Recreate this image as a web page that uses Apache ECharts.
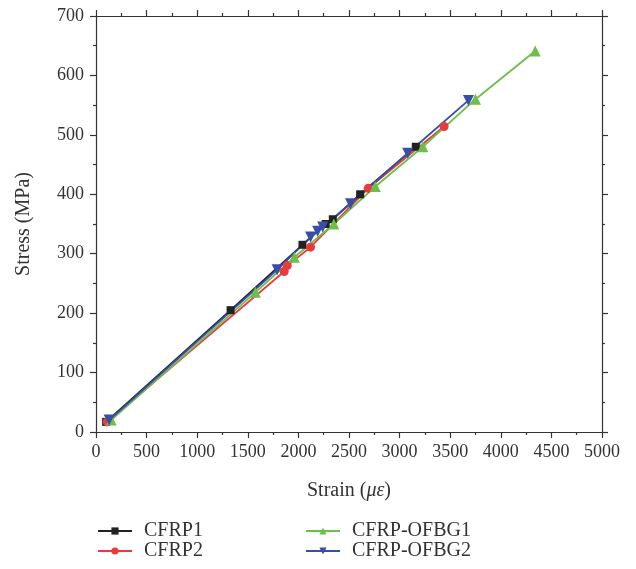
<!DOCTYPE html>
<html>
<head>
<meta charset="utf-8">
<script src="https://cdn.jsdelivr.net/npm/echarts@6/dist/echarts.min.js"></script>
<style>html,body{margin:0;padding:0;background:#fff;}#c{width:636px;height:569px;}</style>
</head>
<body>
<div id="c"></div>
<script>
var seriesNames = ['CFRP1', 'CFRP2', 'CFRP-OFBG1', 'CFRP-OFBG2'];
var cfrp1 = [[100,17],[1330,205],[2040,315],[2270,350],[2340,358],[2610,400],[3160,480]];
var cfrp2 = [[110,17],[1860,270],[1890,280],[2120,311],[2690,410],[3440,514]];
var ofbg1 = [[150,20],[1575,235],[1960,294],[2350,350],[2760,413],[3230,480],[3750,560],[4340,641]];
var ofbg2 = [[130,20],[1790,273],[2120,328],[2190,338],[2240,345],[2515,384],[3080,469],[3680,558]];
var xTicks = [0,500,1000,1500,2000,2500,3000,3500,4000,4500,5000];
var yTicks = [0,100,200,300,400,500,600,700];

var font = '"Liberation Serif", "DejaVu Serif", serif';
var axisColor = '#333';
function mkSeries(name, data, color, symbol, rotate, size) {
  return {
    name: name, type: 'line', data: data, xAxisIndex: 0, yAxisIndex: 0,
    symbol: symbol, symbolSize: size, symbolRotate: rotate,
    lineStyle: {color: color, width: 1.8},
    itemStyle: {color: color},
    animation: false
  };
}
var chart = echarts.init(document.getElementById('c'));
var baseAxis = {
  axisLine: {show: true, onZero: false, lineStyle: {color: axisColor, width: 1.2}},
  axisTick: {show: true, inside: false, length: 6, lineStyle: {color: axisColor, width: 1.2}},
  minorTick: {show: true, splitNumber: 2, length: 3, lineStyle: {color: axisColor, width: 1.2}},
  splitLine: {show: false}
};
function plain(v) { return String(v); }
chart.setOption({
  backgroundColor: '#fff',
  animation: false,
  grid: {left: 96, right: 34, top: 16, bottom: 137, containLabel: false},
  xAxis: [
    Object.assign({}, baseAxis, {
      type: 'value', min: xTicks[0], max: xTicks[xTicks.length-1], interval: 500, position: 'bottom',
      axisLabel: {color: '#333', fontFamily: font, fontSize: 18, margin: 11, formatter: plain},
      name: '{n|Strain (}{i|με}{n|)}', nameLocation: 'middle', nameGap: 49,
      nameTextStyle: {rich: {n: {fontFamily: font, fontSize: 20, color: '#333'}, i: {fontFamily: font, fontSize: 20, fontStyle: 'italic', color: '#333'}}}
    }),
    Object.assign({}, baseAxis, {
      type: 'value', min: xTicks[0], max: xTicks[xTicks.length-1], interval: 500, position: 'top',
      axisLabel: {show: false}
    })
  ],
  yAxis: [
    Object.assign({}, baseAxis, {
      type: 'value', min: yTicks[0], max: yTicks[yTicks.length-1], interval: 100, position: 'left',
      axisLabel: {color: '#333', fontFamily: font, fontSize: 18, margin: 12, formatter: plain},
      name: 'Stress (MPa)', nameLocation: 'middle', nameGap: 62,
      nameTextStyle: {fontFamily: font, fontSize: 20, color: '#333'}
    }),
    Object.assign({}, baseAxis, {
      type: 'value', min: yTicks[0], max: yTicks[yTicks.length-1], interval: 100, position: 'right',
      axisLabel: {show: false}
    })
  ],
  legend: [
    {
      data: [seriesNames[0], seriesNames[1]], orient: 'vertical', left: 92, top: 516,
      itemWidth: 34, itemHeight: 9, itemGap: 0,
      textStyle: {fontFamily: font, fontSize: 20, lineHeight: 18, color: '#333', padding: [0,0,0,7]}
    },
    {
      data: [seriesNames[2], seriesNames[3]], orient: 'vertical', left: 300, top: 516,
      itemWidth: 34, itemHeight: 9, itemGap: 0,
      textStyle: {fontFamily: font, fontSize: 20, lineHeight: 18, color: '#333', padding: [0,0,0,7]}
    }
  ],
  series: [
    mkSeries(seriesNames[0], cfrp1, '#222222', 'rect', 0, 8),
    mkSeries(seriesNames[1], cfrp2, '#e83b3b', 'circle', 0, 9),
    mkSeries(seriesNames[2], ofbg1, '#6cc04a', 'triangle', 0, 11),
    mkSeries(seriesNames[3], ofbg2, '#3b4ea6', 'triangle', 180, 11)
  ]
});
</script>
</body>
</html>
